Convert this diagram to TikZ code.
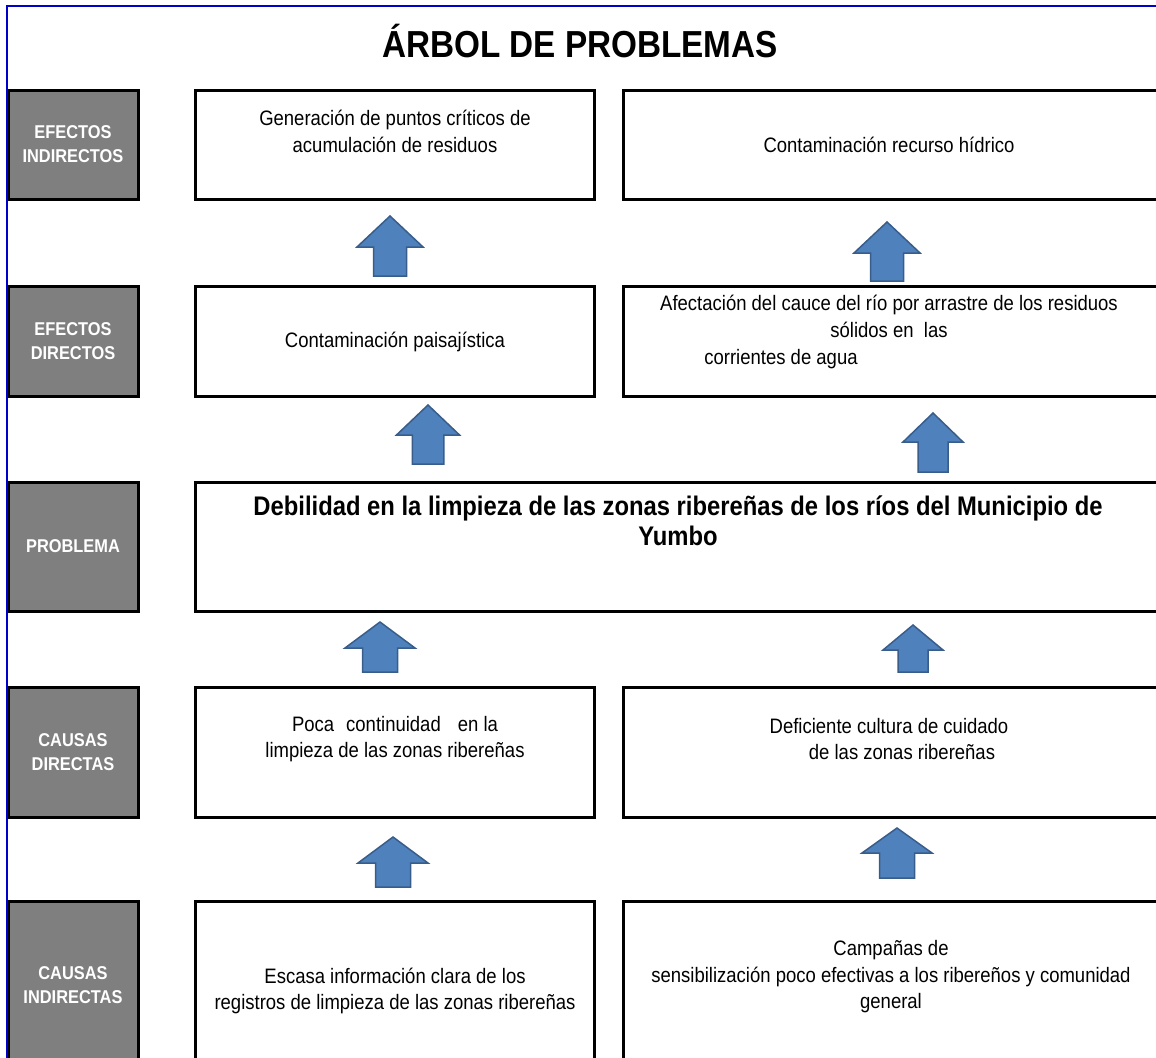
\documentclass[tikz,border=0pt]{standalone}
\usepackage{fontspec}
\setmainfont{Liberation Sans}
\usepackage{tikz}

\definecolor{grisbloque}{HTML}{7F7F7F}
\definecolor{azulflecha}{HTML}{4F81BD}
\definecolor{bordeflecha}{HTML}{385D8A}
\definecolor{azulmarco}{HTML}{0000CC}

% block arrow: x, tip y, head base y, bottom y, half head width
\newcommand{\flecha}[5]{%
  \filldraw[fill=azulflecha, draw=bordeflecha, line width=1.5pt, line join=miter]
    (#1,#2) -- (#1+#5,#3) -- (#1+#5/2,#3) -- (#1+#5/2,#4)
    -- (#1-#5/2,#4) -- (#1-#5/2,#3) -- (#1-#5,#3) -- cycle;}

\begin{document}
\begin{tikzpicture}[x=1pt, y=-1pt,
    alto/.style={yscale=1.13, transform shape},
    caja/.style={draw=black, line width=3pt, inner sep=0pt},
    gris/.style={caja, fill=grisbloque},
    nivel/.style={alto, text=white, align=center, inner sep=0pt,
      font=\fontsize{16.4}{21.2}\selectfont\bfseries},
    texto/.style={alto, align=center, inner sep=0pt,
      font=\fontsize{18.5}{23.5}\selectfont}]

                  % Frame of the page
                  \useasboundingbox (0,0) rectangle (1156,1057);
                  \clip (0,0) rectangle (1156,1057);

                  % Title
                  \node[alto, font=\fontsize{33.3}{40}\selectfont\bfseries] (titulo) at (580,41) {ÁRBOL DE PROBLEMAS};

                  % Gray level boxes
                  \node[gris, minimum width=130pt, minimum height=109pt] (ei) at (73,144.5) {};
                  \node[gris, minimum width=130pt, minimum height=110pt] (ed) at (73,341) {};
                  \node[gris, minimum width=130pt, minimum height=129pt] (pr) at (73,546.5) {};
                  \node[gris, minimum width=130pt, minimum height=130pt] (cd) at (73,752) {};
                  \node[gris, minimum width=130pt, minimum height=169pt] (ci) at (73,985.5) {};

                  \node[nivel] (lei) at (ei) {EFECTOS\\INDIRECTOS};
                  \node[nivel] (led) at (ed) {EFECTOS\\DIRECTOS};
                  \node[nivel] (lpr) at (pr) {PROBLEMA};
                  \node[nivel] (lcd) at (cd) {CAUSAS\\DIRECTAS};
                  \node[nivel] (lci) at (ci) {CAUSAS\\INDIRECTAS};

                  % White boxes
                  \node[caja, minimum width=399pt, minimum height=109pt] (ei1) at (394.5,144.5) {};
                  \node[caja, minimum width=537pt, minimum height=109pt] (ei2) at (891.5,144.5) {};
                  \node[caja, minimum width=399pt, minimum height=110pt] (ed1) at (394.5,341) {};
                  \node[caja, minimum width=537pt, minimum height=110pt] (ed2) at (891.5,341) {};
                  \node[caja, minimum width=965pt, minimum height=129pt] (prob) at (677.5,546.5) {};
                  \node[caja, minimum width=399pt, minimum height=130pt] (cd1) at (394.5,752) {};
                  \node[caja, minimum width=537pt, minimum height=130pt] (cd2) at (891.5,752) {};
                  \node[caja, minimum width=399pt, minimum height=169pt] (ci1) at (394.5,985.5) {};
                  \node[caja, minimum width=537pt, minimum height=169pt] (ci2) at (891.5,985.5) {};

                  % Texts
                  \node[texto] (tei1) at (395,131.5) {Generación de puntos críticos de\\acumulación de residuos};
                  \node[texto] (tei2) at (889,145) {Contaminación recurso hídrico};
                  \node[texto] (ted1) at (395,342) {Contaminación paisajística};
                  \node[texto] (ted2) at (889,332) {Afectación del cauce del río por arrastre de los residuos\\sólidos en\ \ las\\corrientes de agua\hspace{216pt}\mbox{}};
                  \node[alto, align=center, inner sep=0pt, font=\fontsize{23.8}{26.5}\selectfont\bfseries] (tprob) at (678,521)
                    {Debilidad en la limpieza de las zonas ribereñas de los ríos del Municipio de\\Yumbo};
                  \node[texto] (tcd1) at (395,739) {Poca\hspace{12pt}continuidad\hspace{17pt}en la\\limpieza de las zonas ribereñas};
                  \node[texto] (tcd2) at (889,739) {Deficiente cultura de cuidado\\\mbox{}\hspace{26pt}de las zonas ribereñas};
                  \node[texto] (tci1) at (395,991) {Escasa información clara de los\\registros de limpieza de las zonas ribereñas};
                  \node[texto] (tci2) at (891,977) {Campañas de\\sensibilización poco efectivas a los ribereños y comunidad\\general};

                  % Arrows
                  \flecha{390}{216}{247}{276}{33}
                  \flecha{887}{222}{253}{281}{33}
                  \flecha{428}{405}{435}{464}{31.5}
                  \flecha{933}{413}{442}{472}{30}
                  \flecha{380}{622}{648}{672}{35}
                  \flecha{913}{625}{650}{672}{30}
                  \flecha{393}{837}{863}{887}{35}
                  \flecha{897}{828}{853}{878}{35}

                  % Blue frame on top
                  \draw[azulmarco, line width=2pt] (1170,6) -- (7,6) -- (7,1070);

\end{tikzpicture}
\end{document}
